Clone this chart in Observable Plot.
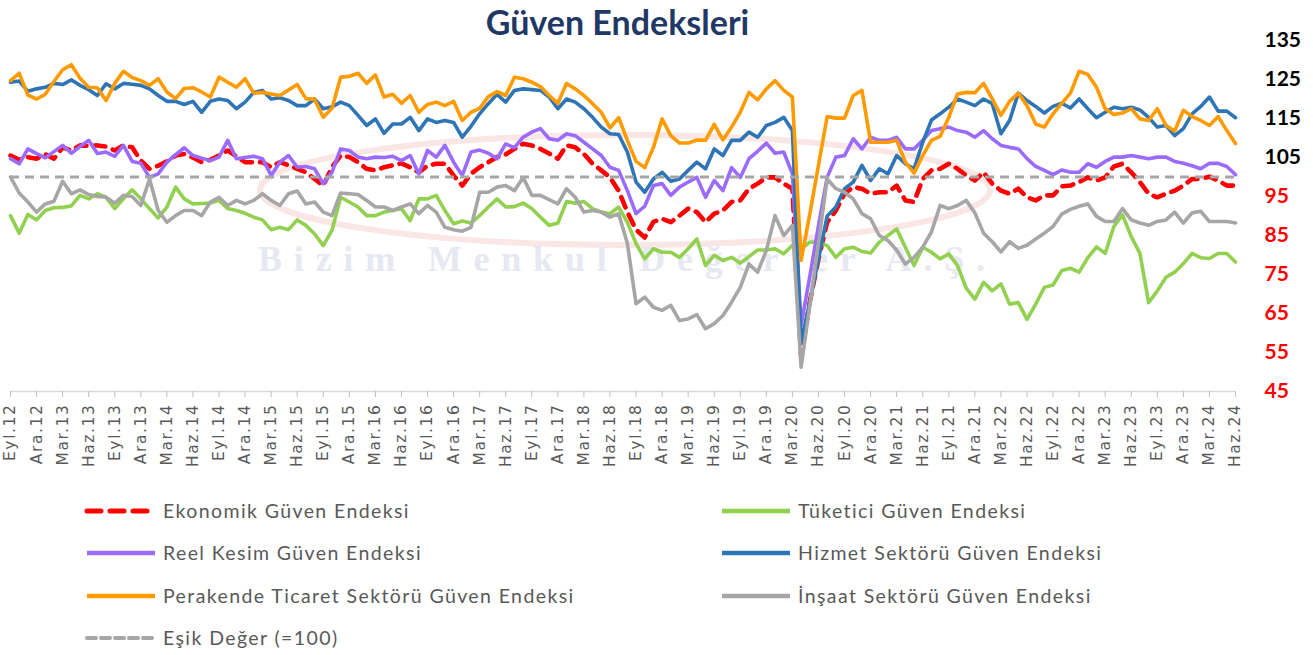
<!DOCTYPE html>
<html><head><meta charset="utf-8">
<script src="https://cdn.jsdelivr.net/npm/d3@7"></script>
<script src="https://cdn.jsdelivr.net/npm/@observablehq/plot@0.6"></script>
<style>
body{margin:0;background:#fff;width:1313px;height:655px;overflow:hidden;position:relative;font-family:Lato,sans-serif}
#chart{position:absolute;left:0;top:0}
#title{position:absolute;left:0;top:1px;width:1235px;text-align:center;font-family:Lato,sans-serif;font-weight:bold;font-size:34px;color:#1f3864;line-height:42px}
#legend{position:absolute;left:0;top:480px}
#chart g[aria-label="x-axis tick label"] text{letter-spacing:1.6px}
</style></head><body>
<div id="chart"></div>
<div id="title">Güven Endeksleri</div>
<svg id="legend" width="1313" height="175"></svg>
<script>
const tickLabels = ["Eyl.12","Ara.12","Mar.13","Haz.13","Eyl.13","Ara.13","Mar.14","Haz.14","Eyl.14","Ara.14","Mar.15","Haz.15","Eyl.15","Ara.15","Mar.16","Haz.16","Eyl.16","Ara.16","Mar.17","Haz.17","Eyl.17","Ara.17","Mar.18","Haz.18","Eyl.18","Ara.18","Mar.19","Haz.19","Eyl.19","Ara.19","Mar.20","Haz.20","Eyl.20","Ara.20","Mar.21","Haz.21","Eyl.21","Ara.21","Mar.22","Haz.22","Eyl.22","Ara.22","Mar.23","Haz.23","Eyl.23","Ara.23","Mar.24","Haz.24"];

const ekonomik = [105.5,104.4,105.1,104.7,105.8,104.7,107.6,106.8,108.1,108.0,108.1,107.8,106.8,108.1,107.6,104.2,102.1,102.9,104.0,105.5,105.9,105.0,103.8,104.4,105.5,106.8,105.3,103.8,103.8,103.8,102.5,103.8,103.0,102.1,101.2,99.5,97.8,102.5,105.5,105.1,103.8,102.1,101.7,102.5,103.0,103.5,102.5,101.2,102.9,103.4,103.4,100.4,97.8,100.8,102.5,103.8,105.1,105.8,107.2,108.5,108.1,107.2,106.0,104.7,108.1,107.6,105.9,103.4,101.7,99.9,96.5,91.0,86.5,84.5,88.5,89.3,88.4,90.1,91.9,91.0,88.4,90.6,91.4,93.6,94.0,97.0,98.3,99.9,99.9,98.3,97.0,54.0,68.0,79.0,88.4,91.4,95.7,97.4,97.0,95.7,96.1,96.1,97.8,94.0,93.6,99.5,101.7,102.1,103.4,102.1,100.4,99.1,101.2,98.3,96.5,95.7,97.0,94.8,94.0,95.3,95.3,97.6,97.8,98.7,99.9,99.1,99.9,102.7,103.4,101.2,98.7,95.7,94.8,95.7,96.5,97.8,99.5,99.5,100.1,99.1,97.8,97.8];

const tuketici = [90.1,85.6,90.4,89.0,91.4,92.1,92.2,92.6,95.3,94.4,95.7,94.8,91.9,94.4,96.7,94.4,91.9,89.5,92.3,97.4,94.4,93.1,93.2,93.3,94.0,91.9,91.4,90.7,89.7,89.0,86.5,87.1,86.5,89.0,87.6,85.4,82.4,86.3,94.8,93.6,92.3,90.1,90.1,91.0,91.4,91.9,88.8,94.4,94.4,95.3,91.4,88.0,88.7,88.2,90.1,92.3,94.4,92.3,92.4,93.3,91.9,89.7,87.6,88.2,93.7,93.3,93.7,91.9,91.0,90.6,92.3,88.4,82.9,79.0,81.6,80.7,80.7,79.4,81.6,84.1,77.3,79.9,78.6,79.4,77.9,79.6,81.3,81.3,81.6,80.3,82.5,81.5,83.3,83.3,82.4,79.4,81.6,82.0,80.9,80.5,83.3,85.0,86.7,82.0,77.3,82.0,80.7,79.0,80.3,77.3,71.5,68.7,73.0,70.8,72.6,67.4,67.8,63.5,67.4,71.7,72.3,76.0,76.6,75.6,79.3,82.1,80.4,87.3,90.3,84.7,80.4,67.8,70.8,74.3,75.6,77.8,80.4,79.3,79.1,80.4,80.4,78.2];

const reelKesim = [104.7,103.4,107.2,106.0,104.9,106.5,108.1,106.1,107.8,109.4,106.0,106.4,105.3,108.1,104.0,103.5,99.9,100.8,103.8,105.7,107.5,105.5,104.8,104.2,105.1,109.4,104.7,105.0,105.3,104.7,100.4,103.8,105.5,102.5,102.7,102.1,98.3,101.2,107.2,106.8,105.1,104.7,105.1,105.0,105.3,104.2,105.5,100.8,106.8,105.1,108.1,103.8,100.4,106.4,106.9,106.1,104.7,108.5,107.5,110.2,111.5,112.4,109.8,109.4,111.1,110.6,108.9,107.2,105.5,102.5,101.7,96.5,90.6,92.5,97.8,98.3,95.3,97.4,98.7,99.9,94.8,99.1,96.5,102.4,99.9,104.7,106.6,108.7,106.1,106.4,100.8,62.0,74.5,87.5,99.9,105.1,105.5,109.8,107.2,110.2,109.4,109.4,110.2,107.2,107.2,109.4,111.9,112.4,112.8,111.9,111.5,110.2,111.9,109.8,108.1,107.6,107.2,104.7,102.7,101.7,100.6,101.8,101.2,101.2,103.4,102.5,104.0,105.1,105.1,105.5,105.1,104.7,105.1,105.1,104.0,103.5,102.9,102.1,103.5,103.5,102.7,100.6];

const hizmet = [124.3,124.6,122.0,122.6,123.0,124.0,123.7,124.9,123.5,122.4,120.9,123.9,122.6,124.0,123.8,123.5,122.6,120.9,119.4,119.4,118.6,119.4,116.6,119.4,120.0,119.6,117.5,119.2,121.7,122.2,120.0,120.3,119.6,118.3,118.3,120.0,117.5,118.0,119.2,118.3,115.8,113.2,114.9,111.2,113.6,113.6,115.3,111.9,114.9,114.0,114.5,114.0,110.2,113.0,116.2,118.8,121.2,119.2,122.2,122.6,122.4,122.2,120.5,117.5,120.0,119.2,117.5,115.3,112.8,111.1,110.9,106.4,98.7,96.1,99.5,101.2,98.9,99.5,101.7,103.8,102.1,107.2,105.5,109.4,109.4,111.5,110.2,113.2,114.0,115.3,111.9,57.5,68.0,79.0,90.0,92.3,97.0,98.7,103.0,99.1,102.1,100.8,105.5,103.4,102.1,108.9,114.6,116.2,117.9,120.0,119.2,118.3,120.0,118.8,111.1,114.5,121.5,119.6,118.1,116.4,118.1,118.9,117.7,120.0,117.5,115.2,116.6,117.9,117.5,117.9,117.2,115.3,112.8,113.2,110.6,112.4,116.2,118.1,120.5,116.9,116.9,115.2];

const perakende = [124.7,126.6,121.0,120.0,121.2,124.5,127.5,128.8,125.3,123.0,122.9,119.6,124.0,127.1,125.5,124.7,123.5,125.2,121.8,120.1,122.7,122.9,121.8,120.5,125.6,124.3,123.0,125.2,121.5,121.7,121.3,120.9,122.3,123.7,120.1,119.9,115.3,117.6,125.6,125.8,126.6,124.0,126.2,120.5,121.2,118.9,120.9,116.6,118.6,119.2,118.3,119.4,114.5,116.6,117.6,120.6,121.9,120.9,125.6,125.2,124.3,123.2,120.9,118.9,124.0,122.6,120.9,118.8,116.6,112.6,115.2,109.4,104.0,102.4,107.6,114.9,110.6,108.7,108.7,109.5,109.4,113.5,109.5,112.8,116.6,121.7,119.8,122.6,124.7,122.2,120.5,78.6,90.5,103.0,115.5,115.1,115.1,120.9,122.2,108.9,108.9,108.9,109.4,103.8,101.0,105.5,109.4,110.4,115.3,121.3,121.7,121.6,124.0,120.0,115.8,119.4,121.5,118.3,113.6,112.8,116.2,118.9,121.5,127.1,126.3,123.0,117.5,116.0,116.4,117.5,114.9,114.5,117.5,113.2,111.8,117.1,115.5,114.5,113.2,115.5,111.9,108.6];

const insaat = [100.0,95.9,93.6,91.0,93.1,93.8,98.9,95.7,96.7,95.5,95.0,94.8,93.3,95.3,95.0,92.7,99.5,91.4,88.4,90.1,91.4,91.4,90.1,93.6,94.8,92.7,94.0,93.1,94.0,95.7,94.0,92.7,95.7,96.4,93.1,93.6,91.0,90.1,95.9,95.7,95.5,94.0,92.3,92.3,91.4,92.3,93.1,90.6,92.7,91.0,87.1,86.5,86.1,87.1,96.1,96.1,97.4,97.8,96.5,99.9,95.3,95.3,94.2,93.1,97.0,94.8,91.0,91.4,91.0,89.7,90.6,83.0,67.5,69.2,66.6,65.8,67.1,63.2,63.6,64.7,61.1,62.4,64.5,67.9,71.7,77.7,75.6,81.2,90.1,85.0,87.6,51.2,67.0,83.0,99.5,97.0,96.1,94.4,90.6,89.3,85.0,83.7,81.2,77.7,79.4,82.0,85.9,92.7,91.9,92.7,94.0,90.8,85.6,83.4,80.8,83.4,81.7,82.5,84.1,85.6,87.3,90.5,91.7,92.5,93.1,89.9,88.6,88.6,91.9,89.0,88.2,87.6,88.6,89.0,91.0,88.2,90.8,91.2,88.6,88.6,88.6,88.2];

const esik = 100;
const yTicksBlack = [105, 115, 125, 135];
const yTicksRed = [45, 55, 65, 75, 85, 95];

const C = {red:"#ff0000", green:"#92d050", purple:"#9b6bff", blue:"#2e75b6", orange:"#ff9a00", gray:"#a6a6a6"};
const W = 3.6;
const xAt = (d, i) => i;
const tickIdx = d3.range(0, 142, 3);

const chart = Plot.plot({
  width: 1313, height: 480,
  marginTop: 40, marginBottom: 89, marginLeft: 10, marginRight: 78,
  style: {fontFamily: "Lato, sans-serif", background: "transparent"},
  x: {type: "linear", domain: [0, 141], axis: null},
  y: {domain: [45, 135], axis: null},
  marks: [
    Plot.ruleY([45], {stroke: "#d9d9d9", strokeWidth: 1.5}),
    Plot.axisX(tickIdx, {anchor: "bottom", tickFormat: i => tickLabels[i / 3], tickRotate: -90, tickSize: 6, tickPadding: 6, stroke: "#bfbfbf", fill: "#595959", fontSize: 15.5, fontFamily: "DejaVu Sans, sans-serif"}),
    Plot.axisY(yTicksBlack, {anchor: "right", tickSize: 0, tickPadding: 29, fontSize: 21, fontWeight: "bold", fill: "#000", fontFamily: "Lato, sans-serif"}),
    Plot.axisY(yTicksRed, {anchor: "right", tickSize: 0, tickPadding: 29, fontSize: 21, fontWeight: "bold", fill: C.red, fontFamily: "Lato, sans-serif"}),
    Plot.line(ekonomik, {x: xAt, y: d => d, stroke: C.red, strokeWidth: 4.6, strokeDasharray: "11,8", strokeLinecap: "round"}),
    Plot.line(tuketici, {x: xAt, y: d => d, stroke: C.green, strokeWidth: W}),
    Plot.line(reelKesim, {x: xAt, y: d => d, stroke: C.purple, strokeWidth: W}),
    Plot.line(hizmet, {x: xAt, y: d => d, stroke: C.blue, strokeWidth: W}),
    Plot.line(perakende, {x: xAt, y: d => d, stroke: C.orange, strokeWidth: W}),
    Plot.line(insaat, {x: xAt, y: d => d, stroke: C.gray, strokeWidth: W}),
    Plot.ruleY([esik], {stroke: "#a6a6a6", strokeWidth: 3, strokeDasharray: "9,6"})
  ]
});
document.getElementById("chart").appendChild(chart);

// faint watermark (decoration)
const svg = d3.select(chart);
const wm = svg.insert("g", ":first-child").attr("pointer-events", "none");
wm.append("ellipse").attr("cx", 625).attr("cy", 190).attr("rx", 365).attr("ry", 55)
  .attr("fill", "none").attr("stroke", "#fbe6e6").attr("stroke-width", 6);
wm.append("text").attr("x", 258).attr("y", 271).attr("text-anchor", "start")
  .attr("textLength", 727).attr("lengthAdjust", "spacing")
  .attr("font-family", "Liberation Serif, serif").attr("font-weight", "bold").attr("font-size", 36).attr("fill", "#e6e8f2")
  .text("Bizim Menkul Değerler A.Ş.");

// legend
const legendItems = [
  {label: "Ekonomik Güven Endeksi", color: C.red, dash: "14,9", w: 5, col: 0, row: 0},
  {label: "Tüketici Güven Endeksi", color: C.green, dash: null, w: 4.5, col: 1, row: 0},
  {label: "Reel Kesim Güven Endeksi", color: C.purple, dash: null, w: 4.5, col: 0, row: 1},
  {label: "Hizmet Sektörü Güven Endeksi", color: C.blue, dash: null, w: 4.5, col: 1, row: 1},
  {label: "Perakende Ticaret Sektörü Güven Endeksi", color: C.orange, dash: null, w: 4.5, col: 0, row: 2},
  {label: "İnşaat Sektörü Güven Endeksi", color: C.gray, dash: null, w: 4.5, col: 1, row: 2},
  {label: "Eşik Değer (=100)", color: "#a6a6a6", dash: "9,5", w: 4, col: 0, row: 3}
];
const lg = d3.select("#legend");
const colX = [87, 722], rowY = [31, 73, 116, 158];
for (const it of legendItems) {
  const x0 = colX[it.col], y0 = rowY[it.row];
  const ln = lg.append("line").attr("x1", x0).attr("x2", x0 + 68).attr("y1", y0).attr("y2", y0)
    .attr("stroke", it.color).attr("stroke-width", it.w).attr("stroke-linecap", it.dash ? "round" : "butt");
  if (it.dash) ln.attr("stroke-dasharray", it.dash);
  lg.append("text").attr("x", x0 + 76).attr("y", y0).attr("dy", "0.35em")
    .attr("font-family", "Lato, sans-serif").attr("font-size", 19.5).attr("letter-spacing", "1.4px")
    .attr("fill", "#595959").text(it.label);
}
</script>
</body></html>
